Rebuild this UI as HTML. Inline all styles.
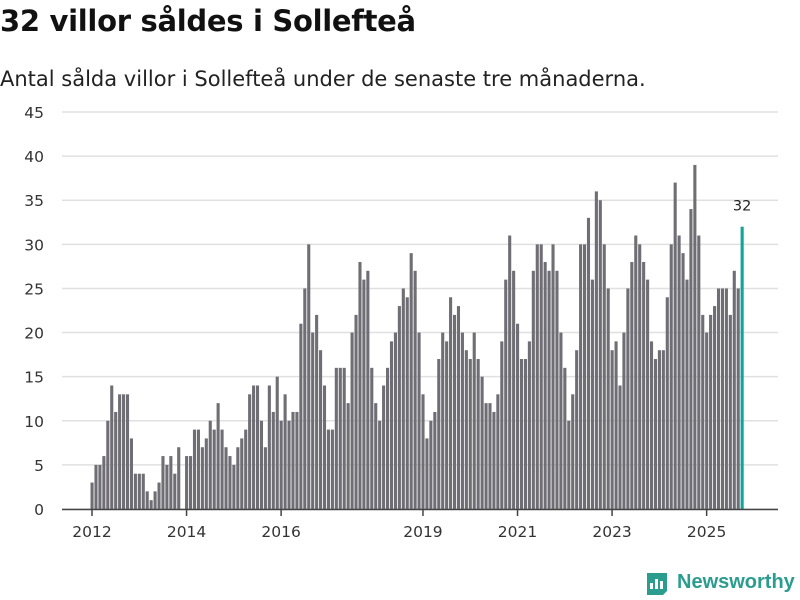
<!DOCTYPE html>
<html><head><meta charset="utf-8"><style>
body{margin:0;background:#fff;width:800px;height:600px;overflow:hidden;font-family:"DejaVu Sans",sans-serif}
#t{position:absolute;left:0;top:4px;font-size:29px;font-weight:bold;color:#111;margin:0;letter-spacing:-0.3px}
#s{position:absolute;left:0;top:67px;font-size:21px;color:#222}
svg{position:absolute;left:0;top:0}
</style></head><body>
<h1 id="t">32 villor såldes i Sollefteå</h1>
<div id="s">Antal sålda villor i Sollefteå under de senaste tre månaderna.</div>
<svg id="c" width="800" height="600"></svg>
<script>
const values=[3,5,5,6,10,14,11,13,13,13,8,4,
4,4,2,1,2,3,6,5,6,4,7,0,
6,6,9,9,7,8,10,9,12,9,7,6,
5,7,8,9,13,14,14,10,7,14,11,15,
10,13,10,11,11,21,25,30,20,22,18,14,
9,9,16,16,16,12,20,22,28,26,27,16,
12,10,14,16,19,20,23,25,24,29,27,20,
13,8,10,11,17,20,19,24,22,23,20,18,
17,20,17,15,12,12,11,13,19,26,31,27,
21,17,17,19,27,30,30,28,27,30,27,20,
16,10,13,18,30,30,33,26,36,35,30,25,
18,19,14,20,25,28,31,30,28,26,19,17,
18,18,24,30,37,31,29,26,34,39,31,22,
20,22,23,25,25,25,22,27,25,32];
const yTicks=[0,5,10,15,20,25,30,35,40,45];
const xTickYears=[2012,2014,2016,2019,2021,2023,2025];
const startYear=2012;
const NS="http://www.w3.org/2000/svg";
const svg=document.getElementById('c');
const y=v=>509-v*(397/45);
const x=i=>90.5+i*3.94;
function mk(t,a){const e=document.createElementNS(NS,t);for(const k in a)e.setAttribute(k,a[k]);svg.appendChild(e);return e;}
yTicks.forEach(v=>{
 const l=mk('line',{x1:62,x2:778,y1:y(v),y2:y(v),stroke:'#e0e0e0','stroke-width':1.5});
 
 
 const t=mk('text',{x:44,y:y(v)+6,'text-anchor':'end','font-size':15.5,fill:'#333','font-family':'DejaVu Sans, sans-serif'});
 t.textContent=v;
 
 
});
values.forEach((v,i)=>{
 const last=i===values.length-1;
 const r=mk('rect',{x:x(i),y:y(v),width:3.1,height:509-y(v),fill:last?'#11a59a':'#6f6e74'});
 
 
 if(last){const t=mk('text',{x:x(i)+1.5,y:y(v)-16,'text-anchor':'middle','font-size':14.5,fill:'#222','font-family':'DejaVu Sans, sans-serif'});t.textContent=v;
 
 }
});
const ax=mk('line',{x1:62,x2:778,y1:509.5,y2:509.5,stroke:'#444','stroke-width':1.5});


xTickYears.forEach(yr=>{
 const xi=x((yr-startYear)*12)+1.5;
 const tk=mk('line',{x1:xi,x2:xi,y1:509,y2:516,stroke:'#444','stroke-width':1.5});
 
 
 const t=mk('text',{x:xi,y:537,'text-anchor':'middle','font-size':15.5,fill:'#333','font-family':'DejaVu Sans, sans-serif'});
 t.textContent=yr;
 
 
});
</script>
<div style="position:absolute;left:645px;top:569px;display:flex;align-items:center">
<svg width="24" height="26" style="position:static"><path d="M2 4h20v18l-4 4H2z" fill="#2a9d8f"/><rect x="5" y="14" width="3" height="6" fill="#fff"/><rect x="10" y="10" width="3" height="10" fill="#fff"/><rect x="15" y="12" width="3" height="8" fill="#fff"/></svg>
<span style="margin-left:8px;font-size:20px;font-weight:bold;color:#2a9d8f;font-family:'Liberation Sans',sans-serif">Newsworthy</span></div>
</body></html>
